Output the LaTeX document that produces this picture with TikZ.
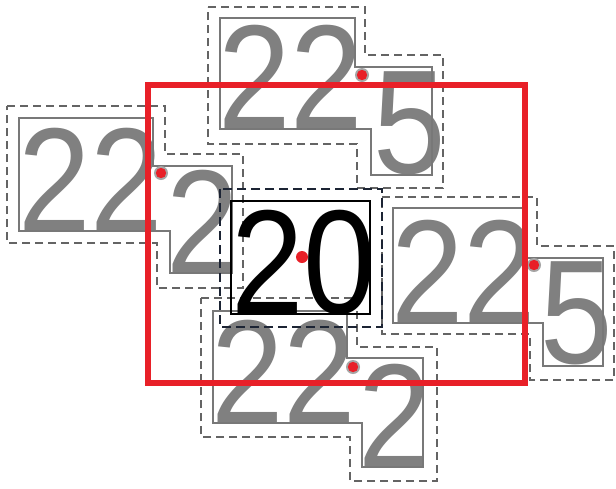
\documentclass[tikz,border=0pt]{standalone}
\usepackage{fontspec}
\setmainfont{Liberation Sans}
\definecolor{txtgray}{RGB}{128,128,128}
\definecolor{linegray}{RGB}{120,120,120}
\definecolor{dashgray}{RGB}{100,100,100}
\definecolor{navy}{RGB}{28,36,52}
\definecolor{redbox}{RGB}{232,32,40}
\tikzset{
  digits/.style={inner sep=0pt, outer sep=0pt, anchor=base west, text=txtgray,
    font=\fontsize{148}{148}\selectfont},
  blackdigits/.style={digits, text=black},
  solidline/.style={draw=linegray, line width=2.6pt, line join=miter},
  dashline/.style={draw=dashgray, line width=2.2pt, dash pattern=on 8pt off 5pt},
  navydash/.style={draw=navy, line width=2.4pt, dash pattern=on 9pt off 5pt},
  blackbox/.style={draw=black, line width=2.2pt},
  redrect/.style={draw=redbox, line width=6pt},
  halo/.style={fill=gray!70, draw=none},
  reddot/.style={fill=redbox, draw=none}
}
\newcommand{\cond}[1]{\scalebox{0.88}[1]{#1}}
\begin{document}
\begin{tikzpicture}[x=1pt,y=-1pt]
\useasboundingbox[fill=white] (0,0) rectangle (616,488);

% ---- top group
\node[digits] (tA) at (218,128) {\cond{22}};
\node[digits] (tB) at (373,173) {\cond{5}};
\draw[solidline] (220,18) -- (355,18) -- (355,67) -- (432,67) -- (432,175) -- (371,175) -- (371,129) -- (220,129) -- cycle;
\draw[dashline] (208,7) -- (365,7) -- (365,55) -- (443,55) -- (443,188) -- (357,188) -- (357,144) -- (208,144) -- cycle;

% ---- left group
\node[digits] (lA) at (18,231) {\cond{22}};
\node[digits] (lB) at (166,273) {\cond{2}};
\draw[solidline] (19,118) -- (153,118) -- (153,166) -- (232,166) -- (232,273) -- (170,273) -- (170,231) -- (19,231) -- cycle;
\draw[dashline] (7,106) -- (165,106) -- (165,154) -- (243,154) -- (243,288) -- (157,288) -- (157,243) -- (7,243) -- cycle;

% ---- right group
\node[digits] (rA) at (391,323) {\cond{22}};
\node[digits] (rB) at (540,363) {\cond{5}};
\draw[solidline] (393,208) -- (523,208) -- (523,258) -- (603,258) -- (603,366) -- (543,366) -- (543,323) -- (393,323) -- cycle;
\draw[dashline] (382,197) -- (537,197) -- (537,246) -- (614,246) -- (614,380) -- (530,380) -- (530,334) -- (382,334) -- cycle;

% ---- bottom group
\node[digits] (bA) at (211,423) {\cond{22}};
\node[digits] (bB) at (358,467) {\cond{2}};
\draw[solidline] (213,311) -- (347,311) -- (347,358) -- (423,358) -- (423,467) -- (362,467) -- (362,423) -- (213,423) -- cycle;
\draw[dashline] (201,298) -- (357,298) -- (357,347) -- (437,347) -- (437,481) -- (350,481) -- (350,437) -- (201,437) -- cycle;

% ---- center group
\node[blackdigits] (cA) at (231,313) {\cond{20}};
\draw[blackbox] (231,201) rectangle (370,314);
\draw[navydash] (220,189) rectangle (382,327);

% ---- anchor dots
\foreach \p in {(362,75),(161,173),(534,265),(353,367)} {
  \fill[halo] \p circle (7);
  \fill[reddot] \p circle (5.2);
}
\fill[reddot] (302,257) circle (6);

% ---- red frame
\draw[redrect] (147.5,85) rectangle (525,383);
\end{tikzpicture}
\end{document}
